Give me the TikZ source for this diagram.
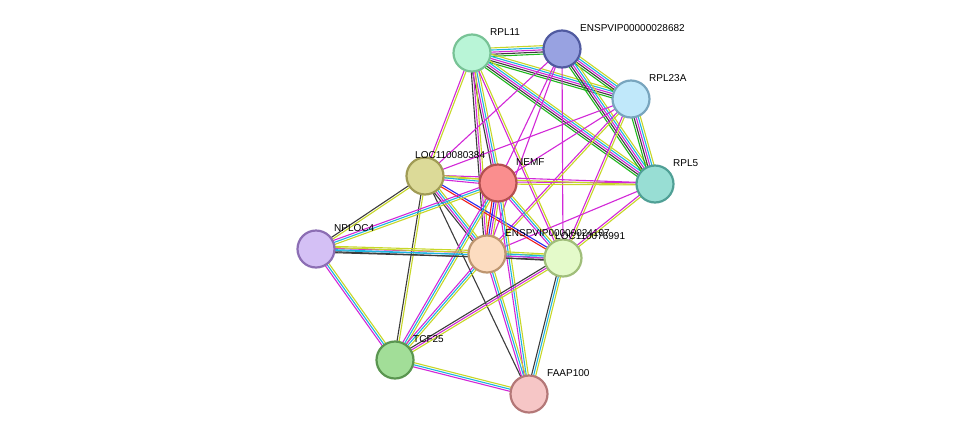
\documentclass[tikz,border=0pt]{standalone}
\usepackage{fontspec}
\setmainfont{Liberation Sans}
\usetikzlibrary{calc}
\definecolor{tm}{RGB}{199,215,40}
\definecolor{mg}{RGB}{210,40,215}
\definecolor{cy}{RGB}{30,180,225}
\definecolor{bk}{RGB}{60,60,60}
\definecolor{gn}{RGB}{30,185,30}
\definecolor{rd}{RGB}{240,30,30}
\definecolor{bl}{RGB}{40,40,240}
\definecolor{f1}{RGB}{185,245,215}\definecolor{d1}{RGB}{120,195,150}
\definecolor{f2}{RGB}{152,162,225}\definecolor{d2}{RGB}{80,90,160}
\definecolor{f3}{RGB}{192,232,250}\definecolor{d3}{RGB}{120,165,190}
\definecolor{f4}{RGB}{152,222,212}\definecolor{d4}{RGB}{80,160,150}
\definecolor{f5}{RGB}{220,218,152}\definecolor{d5}{RGB}{160,155,85}
\definecolor{f6}{RGB}{250,142,142}\definecolor{d6}{RGB}{180,80,80}
\definecolor{f7}{RGB}{212,192,245}\definecolor{d7}{RGB}{140,110,180}
\definecolor{f8}{RGB}{252,220,192}\definecolor{d8}{RGB}{190,150,112}
\definecolor{f9}{RGB}{228,250,202}\definecolor{d9}{RGB}{160,190,122}
\definecolor{f10}{RGB}{162,222,152}\definecolor{d10}{RGB}{90,150,80}
\definecolor{f11}{RGB}{246,198,198}\definecolor{d11}{RGB}{180,120,120}
\newcommand{\edg}[4]{% a b n colors
  \foreach \c [count=\i] in {#4}{
    \pgfmathsetmacro{\o}{(\i-1-(#3-1)/2)*2.1}
    \draw[\c,line width=1.1pt] ($(#1)!\o pt!90:(#2)$) -- ($(#2)!\o pt!-90:(#1)$);
  }}
\tikzset{prot/.style={circle,minimum size=37pt,inner sep=0,line width=2.2pt,fill=f#1,draw=d#1},
  lab/.style={anchor=west,font=\fontsize{10}{11}\selectfont,inner sep=0}}
\begin{document}
\begin{tikzpicture}[x=1pt,y=-1pt]
\useasboundingbox (0,0) rectangle (975,440);
\coordinate (rpl11) at (472,53);
\coordinate (e682) at (562,49);
\coordinate (rpl23) at (631,99);
\coordinate (rpl5) at (655,184);
\coordinate (l384) at (425,176);
\coordinate (nemf) at (498,183);
\coordinate (nploc) at (316,249);
\coordinate (e107) at (487,254);
\coordinate (l991) at (563,258);
\coordinate (tcf) at (395,360);
\coordinate (faap) at (529,394);
\edg{rpl11}{e682}{5}{gn,bk,mg,cy,tm}
\edg{rpl11}{rpl23}{5}{gn,bk,mg,cy,tm}
\edg{rpl11}{rpl5}{5}{gn,bk,mg,cy,tm}
\edg{e682}{rpl23}{5}{gn,bk,mg,cy,tm}
\edg{e682}{rpl5}{5}{gn,bk,mg,cy,tm}
\edg{rpl23}{rpl5}{5}{gn,bk,mg,cy,tm}
\edg{rpl11}{nemf}{4}{bk,mg,cy,tm}
\edg{rpl11}{l384}{2}{mg,tm}
\edg{rpl11}{e107}{3}{bk,mg,tm}
\edg{rpl11}{l991}{2}{mg,tm}
\edg{e682}{nemf}{1}{mg}
\edg{e682}{l384}{1}{mg}
\edg{e682}{e107}{1}{mg}
\edg{e682}{l991}{1}{mg}
\edg{rpl23}{nemf}{1}{mg}
\edg{rpl23}{l384}{1}{mg}
\edg{rpl23}{e107}{2}{mg,tm}
\edg{rpl23}{l991}{2}{mg,tm}
\edg{rpl5}{nemf}{2}{mg,tm}
\edg{rpl5}{l384}{2}{mg,tm}
\edg{rpl5}{e107}{1}{mg}
\edg{rpl5}{l991}{2}{mg,tm}
\edg{l384}{nemf}{3}{mg,cy,tm}
\edg{l384}{nploc}{2}{bk,tm}
\edg{l384}{e107}{4}{bk,mg,cy,tm}
\edg{l384}{l991}{2}{rd,bl}
\edg{l384}{tcf}{2}{bk,tm}
\edg{l384}{faap}{1}{bk}
\edg{nemf}{nploc}{3}{mg,cy,tm}
\edg{nemf}{e107}{4}{rd,bl,mg,tm}
\edg{nemf}{l991}{3}{mg,cy,tm}
\edg{nemf}{tcf}{3}{mg,cy,tm}
\edg{nemf}{faap}{3}{mg,cy,tm}
\edg{nploc}{e107}{4}{bk,cy,mg,tm}
\edg{nploc}{l991}{3}{bk,cy,tm}
\edg{nploc}{tcf}{3}{mg,cy,tm}
\edg{e107}{tcf}{3}{mg,cy,tm}
\edg{e107}{faap}{3}{mg,cy,tm}
\edg{e107}{l991}{4}{bk,mg,cy,tm}
\edg{l991}{tcf}{3}{bk,mg,tm}
\edg{l991}{faap}{3}{bk,cy,tm}
\edg{tcf}{faap}{3}{mg,cy,tm}
\node[prot=1] (n1) at (rpl11) {};
\node[prot=2] (n2) at (e682) {};
\node[prot=3] (n3) at (rpl23) {};
\node[prot=4] (n4) at (rpl5) {};
\node[prot=5] (n5) at (l384) {};
\node[prot=6] (n6) at (nemf) {};
\node[prot=7] (n7) at (nploc) {};
\node[prot=8] (n8) at (e107) {};
\node[prot=9] (n9) at (l991) {};
\node[prot=10] (n10) at (tcf) {};
\node[prot=11] (n11) at (faap) {};
\node[lab] (t1) at (490,32) {RPL11};
\node[lab] (t2) at (580,28) {ENSPVIP00000028682};
\node[lab] (t3) at (649,78) {RPL23A};
\node[lab] (t4) at (673,163) {RPL5};
\node[lab] (t5) at (415,155) {LOC110080384};
\node[lab] (t6) at (516,162) {NEMF};
\node[lab] (t7) at (334,228) {NPLOC4};
\node[lab] (t8) at (505,233) {ENSPVIP00000024107};
\node[lab] (t9) at (555,236) {LOC110076991};
\node[lab] (t10) at (413,339) {TCF25};
\node[lab] (t11) at (547,373) {FAAP100};
\end{tikzpicture}
\end{document}
